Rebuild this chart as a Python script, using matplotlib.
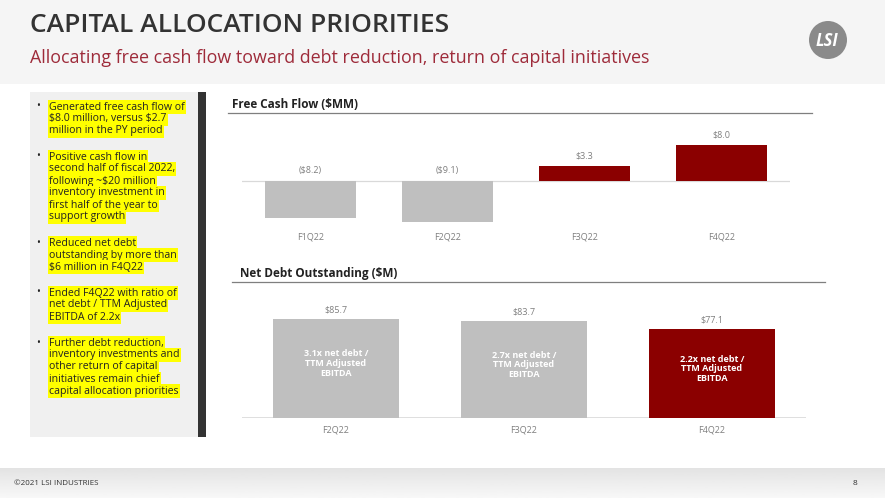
import numpy as np
import matplotlib.pyplot as plt
from matplotlib.patches import Rectangle, Ellipse

W, H = 885, 498

# data
fcf_quarters = ["F1Q22", "F2Q22", "F3Q22", "F4Q22"]
fcf_values = [-8.2, -9.1, 3.3, 8.0]
fcf_labels = ["($8.2)", "($9.1)", "$3.3", "$8.0"]

debt_quarters = ["F2Q22", "F3Q22", "F4Q22"]
debt_values = [85.7, 83.7, 77.1]
debt_labels = ["$85.7", "$83.7", "$77.1"]
debt_ratios = ["3.1x", "2.7x", "2.2x"]

bullets = [
    ["Generated free cash flow of", "$8.0 million, versus $2.7", "million in the PY period"],
    ["Positive cash flow in", "second half of fiscal 2022,", "following ~$20 million",
     "inventory investment in", "first half of the year to", "support growth"],
    ["Reduced net debt", "outstanding by more than", "$6 million in F4Q22"],
    ["Ended F4Q22 with ratio of", "net debt / TTM Adjusted", "EBITDA of 2.2x"],
    ["Further debt reduction,", "inventory investments and", "other return of capital",
     "initiatives remain chief", "capital allocation priorities"],
]

GRAY = "#bfbfbf"
RED = "#8b0000"
TXT = "#7f7f7f"

plt.rcParams['font.family'] = ['Open Sans', 'DejaVu Sans']
plt.rcParams['text.parse_math'] = False


def px_axes(fig, x0, y0, x1, y1):
    return fig.add_axes([x0 / W, 1 - y1 / H, (x1 - x0) / W, (y1 - y0) / H])


def fx(x):
    return x / W


def fy(y):
    return 1 - y / H


fig = plt.figure(figsize=(W / 100, H / 100), dpi=100)
fig.patch.set_facecolor("white")

# header band and footer band
fig.patches.append(Rectangle((0, fy(84)), 1, 84 / H, transform=fig.transFigure,
                             facecolor="#f5f5f5", edgecolor="none", zorder=0))
foot = px_axes(fig, 0, 468, W, H)
foot.imshow(np.linspace(0.89, 0.97, 30).reshape(-1, 1), cmap="gray", vmin=0, vmax=1,
            aspect="auto", extent=(0, 1, 0, 1))
foot.axis("off")

fig.text(fx(30), fy(26), "CAPITAL ALLOCATION PRIORITIES", fontsize=19, fontweight="semibold",
         color="#333333", va="center", ha="left")
fig.text(fx(30), fy(58), "Allocating free cash flow toward debt reduction, return of capital initiatives",
         fontsize=12.9, color="#9e2b3a", va="center", ha="left")

# logo
fig.patches.append(Ellipse((fx(828), fy(40)), 38 / W, 38 / H, transform=fig.transFigure,
                           facecolor="#8a8a8a", edgecolor="none"))
fig.text(fx(827), fy(41), "LSI", fontsize=12, fontweight="bold", fontstyle="italic",
         color="white", ha="center", va="center")

# left panel
fig.patches.append(Rectangle((fx(30), fy(437)), 168 / W, 345 / H, transform=fig.transFigure,
                             facecolor="#f0f0f0", edgecolor="none", zorder=0))
fig.patches.append(Rectangle((fx(198), fy(437)), 8 / W, 345 / H, transform=fig.transFigure,
                             facecolor="#333333", edgecolor="none", zorder=0))
y = 107
for block in bullets:
    fig.text(fx(36), fy(y), "•", fontsize=7.5, color="#222222", va="center", ha="left")
    for line in block:
        fig.text(fx(49), fy(y), line, fontsize=7.6, color="#222222", va="center", ha="left",
                 bbox=dict(facecolor="#ffff00", edgecolor="none", pad=0.8))
        y += 12
    y += 14

# free cash flow chart
fig.text(fx(232), fy(105), "Free Cash Flow ($MM)", fontsize=8.5, fontweight="bold",
         color="#222222", va="center")
fig.add_artist(plt.Line2D([fx(228), fx(812)], [fy(113), fy(113)], transform=fig.transFigure,
                          color="#7f7f7f", lw=0.9))
ax1 = px_axes(fig, 242, 125, 790, 230)
x1 = np.arange(len(fcf_values))
cols1 = [RED if v > 0 else GRAY for v in fcf_values]
ax1.bar(x1, fcf_values, width=0.67, color=cols1, zorder=2)
ax1.axhline(0, color="#d9d9d9", lw=0.9, zorder=1)
ax1.set_xlim(-0.5, 3.5)
ax1.set_ylim(-10.9, 12.4)
for xi, v, lab in zip(x1, fcf_values, fcf_labels):
    base = max(v, 0)
    ax1.text(xi, base + 1.2, lab, ha="center", va="bottom", fontsize=6.5, color=TXT)
ax1.axis("off")
for xi, q in zip(x1, fcf_quarters):
    ax1.text(xi, -12.4, q, ha="center", va="center", fontsize=6.5, color=TXT)

# net debt chart
fig.text(fx(240), fy(273), "Net Debt Outstanding ($M)", fontsize=8.5, fontweight="bold",
         color="#222222", va="center")
fig.add_artist(plt.Line2D([fx(232), fx(825)], [fy(282), fy(282)], transform=fig.transFigure,
                          color="#7f7f7f", lw=0.9))
ax2 = px_axes(fig, 242, 300, 806, 418)
x2 = np.arange(len(debt_values))
cols2 = [GRAY, GRAY, RED]
ax2.bar(x2, debt_values, width=0.67, color=cols2, zorder=2)
ax2.axhline(0, color="#d9d9d9", lw=1.2, zorder=1)
ax2.set_xlim(-0.5, 2.5)
ax2.set_ylim(0, 102)
for xi, v, lab, r in zip(x2, debt_values, debt_labels, debt_ratios):
    ax2.text(xi, v + 4, lab, ha="center", va="bottom", fontsize=6.5, color=TXT)
    ax2.text(xi, v * 0.55, f"{r} net debt /\nTTM Adjusted\nEBITDA", ha="center", va="center",
             fontsize=6.5, fontweight="bold", color="white", linespacing=1.1)
ax2.axis("off")
for xi, q in zip(x2, debt_quarters):
    ax2.text(xi, -10, q, ha="center", va="center", fontsize=6.5, color=TXT)

# footer
fig.text(fx(14), fy(483), "©2021 LSI INDUSTRIES", fontsize=5.8, color="#333333", va="center")
fig.text(fx(855), fy(483), "8", fontsize=6, color="#333333", va="center", ha="center")

fig.savefig("out.png", dpi=100)
